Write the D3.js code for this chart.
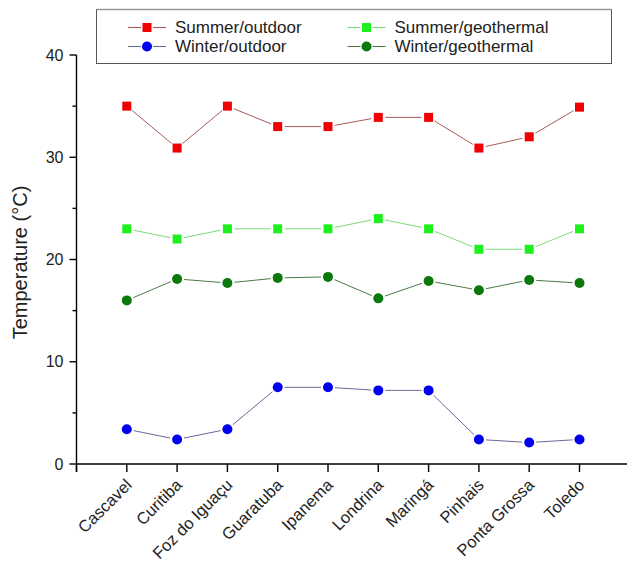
<!DOCTYPE html>
<html>
<head>
<meta charset="utf-8">
<script src="https://cdn.jsdelivr.net/npm/d3@7"></script>
<style>
  html, body { margin: 0; padding: 0; background: #fff; }
  svg { display: block; font-family: "Liberation Sans", Arial, sans-serif; }
</style>
</head>
<body>
<svg id="chart" width="627" height="567"></svg>
<script>
// Cities along the x axis
const cities = ["Cascavel", "Curitiba", "Foz do Iguaçu", "Guaratuba", "Ipanema",
                "Londrina", "Maringá", "Pinhais", "Ponta Grossa", "Toledo"];

// Temperatures (°C) per city
const summerOutdoor    = [35.0, 30.9, 35.0, 33.0, 33.0, 33.9, 33.9, 30.9, 32.0, 34.9];
const summerGeothermal = [23.0, 22.0, 23.0, 23.0, 23.0, 24.0, 23.0, 21.0, 21.0, 23.0];
const winterOutdoor    = [3.4, 2.4, 3.4, 7.5, 7.5, 7.2, 7.2, 2.4, 2.1, 2.4];
const winterGeothermal = [16.0, 18.1, 17.7, 18.2, 18.3, 16.2, 17.9, 17.0, 18.0, 17.7];

// Y axis ticks
const yMajorTicks = [0, 10, 20, 30, 40];
const yMinorTicks = [5, 15, 25, 35];

const series = [
  { name: "Summer/outdoor",    values: summerOutdoor,    shape: "square", fill: "#f00000", line: "#a85a5a" },
  { name: "Summer/geothermal", values: summerGeothermal, shape: "square", fill: "#1ef01e", line: "#7cd87c" },
  { name: "Winter/outdoor",    values: winterOutdoor,    shape: "circle", fill: "#0000f0", line: "#6a6a9a" },
  { name: "Winter/geothermal", values: winterGeothermal, shape: "circle", fill: "#0a780a", line: "#4a7a4a" }
];

const svg = d3.select("#chart");

const x = d3.scaleLinear().domain([0, cities.length + 1]).range([76.5, 629.8]);
const y = d3.scaleLinear().domain([0, 40]).range([464, 55]);

// Axes
const axisColor = "#000";
const gx = svg.append("g").attr("transform", `translate(0,${y(0)})`);
gx.append("line").attr("x1", x(0)).attr("x2", x(cities.length + 1)).attr("stroke", axisColor).attr("stroke-width", 1.4);
const xTickPos = d3.range(0, cities.length + 1);
gx.selectAll("line.tick").data(xTickPos).join("line")
  .attr("class", "tick")
  .attr("x1", d => x(d)).attr("x2", d => x(d))
  .attr("y1", 0).attr("y2", 8)
  .attr("stroke", axisColor).attr("stroke-width", 1.4);
gx.selectAll("text").data(cities).join("text")
  .attr("transform", (d, i) => `translate(${x(i + 1) + 6},${22}) rotate(-45)`)
  .attr("text-anchor", "end")
  .attr("font-size", 16.5)
  .attr("fill", "#222")
  .text(d => d);

const gy = svg.append("g").attr("transform", `translate(${x(0)},0)`);
gy.append("line").attr("y1", y(40)).attr("y2", y(0) + 8).attr("stroke", axisColor).attr("stroke-width", 1.4);
gy.selectAll("line.major").data(yMajorTicks).join("line")
  .attr("class", "major")
  .attr("x1", -7).attr("x2", 0)
  .attr("y1", d => y(d)).attr("y2", d => y(d))
  .attr("stroke", axisColor).attr("stroke-width", 1.4);
gy.selectAll("line.minor").data(yMinorTicks).join("line")
  .attr("class", "minor")
  .attr("x1", -4).attr("x2", 0)
  .attr("y1", d => y(d)).attr("y2", d => y(d))
  .attr("stroke", axisColor).attr("stroke-width", 1.4);
gy.selectAll("text").data(yMajorTicks).join("text")
  .attr("x", -13).attr("y", d => y(d))
  .attr("dy", "0.35em")
  .attr("text-anchor", "end")
  .attr("font-size", 16)
  .attr("fill", "#222")
  .text(d => d);

svg.append("text")
  .attr("transform", `translate(27,${(y(0) + y(40)) / 2 + 3}) rotate(-90)`)
  .attr("text-anchor", "middle")
  .attr("font-size", 20)
  .attr("fill", "#222")
  .text("Temperature (°C)");

// Connecting segments with a small gap around each marker
const gap = 7;
function gappedSegments(values) {
  const segs = [];
  for (let i = 0; i < values.length - 1; i++) {
    const x1 = x(i + 1), y1 = y(values[i]), x2 = x(i + 2), y2 = y(values[i + 1]);
    const len = Math.hypot(x2 - x1, y2 - y1);
    const ux = (x2 - x1) / len, uy = (y2 - y1) / len;
    segs.push({ x1: x1 + ux * gap, y1: y1 + uy * gap, x2: x2 - ux * gap, y2: y2 - uy * gap });
  }
  return segs;
}

function drawMarker(sel, s, cx, cy) {
  if (s.shape === "square") {
    sel.append("rect").attr("x", cx - 4.5).attr("y", cy - 4.5).attr("width", 9).attr("height", 9).attr("fill", s.fill);
  } else {
    sel.append("circle").attr("cx", cx).attr("cy", cy).attr("r", 5).attr("fill", s.fill);
  }
}

series.forEach(s => {
  const g = svg.append("g");
  g.selectAll("line").data(gappedSegments(s.values)).join("line")
    .attr("x1", d => d.x1).attr("y1", d => d.y1)
    .attr("x2", d => d.x2).attr("y2", d => d.y2)
    .attr("stroke", s.line).attr("stroke-width", 1);
  s.values.forEach((v, i) => drawMarker(g, s, x(i + 1), y(v)));
});

// Legend
const legend = svg.append("g");
legend.append("rect").attr("x", 96.5).attr("y", 9.5).attr("width", 515).attr("height", 54)
  .attr("fill", "#fff").attr("stroke", "#555").attr("stroke-width", 1);
legend.append("line").attr("x1", 96.5).attr("x2", 611.5).attr("y1", 9.5).attr("y2", 9.5)
  .attr("stroke", "#999").attr("stroke-width", 1.5);
const legendPos = [
  { cx: 147, cy: 27.5 }, { cx: 366.5, cy: 27.5 },
  { cx: 147, cy: 46.5 }, { cx: 366.5, cy: 46.5 }
];
series.forEach((s, i) => {
  const p = legendPos[i];
  const g = legend.append("g");
  g.append("line").attr("x1", p.cx - 19).attr("x2", p.cx - 6).attr("y1", p.cy).attr("y2", p.cy)
    .attr("stroke", s.line).attr("stroke-width", 1.1);
  g.append("line").attr("x1", p.cx + 6).attr("x2", p.cx + 19).attr("y1", p.cy).attr("y2", p.cy)
    .attr("stroke", s.line).attr("stroke-width", 1.1);
  drawMarker(g, s, p.cx, p.cy);
  g.append("text").attr("x", p.cx + 28).attr("y", p.cy).attr("dy", "0.35em")
    .attr("font-size", 17).attr("fill", "#222").text(s.name);
});
</script>
</body>
</html>
